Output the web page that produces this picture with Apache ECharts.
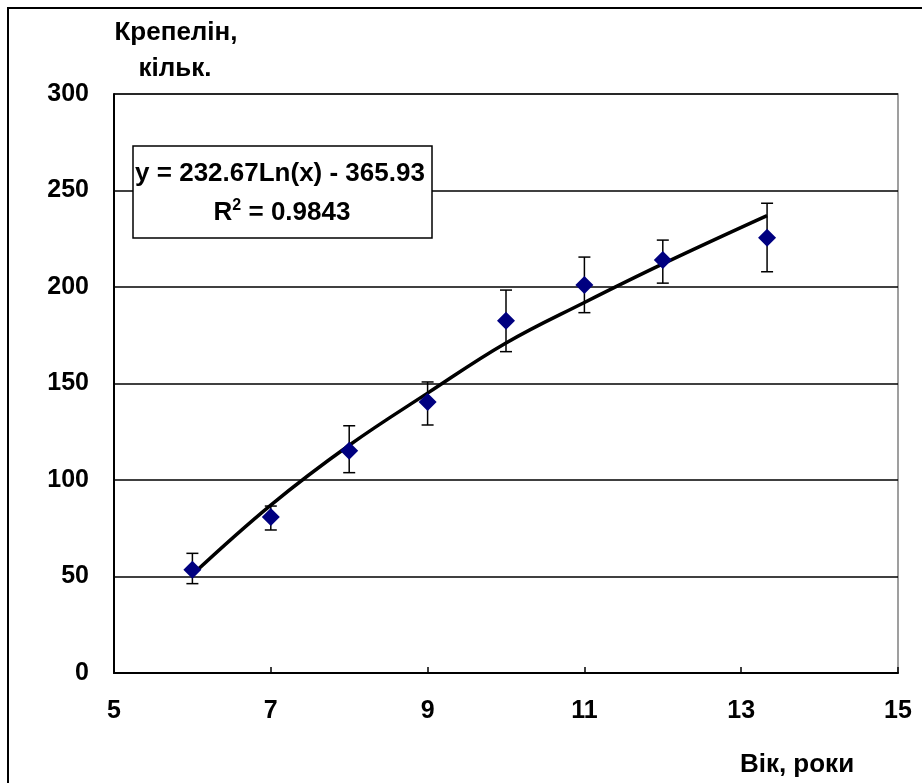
<!DOCTYPE html>
<html>
<head>
<meta charset="utf-8">
<script src="https://cdn.jsdelivr.net/npm/echarts@6/dist/echarts.min.js"></script>
<style>
  html, body { margin: 0; padding: 0; background: #fff; }
  #chart { width: 922px; height: 783px; }
</style>
</head>
<body>
<div id="chart"></div>
<script>
// вік, роки
var ages = [6, 7, 8, 9, 10, 11, 12, 13.33];
// середні значення (Крепелін, кільк.)
var means = [53.5, 80.8, 115.2, 140.4, 182.5, 201, 214, 225.5];
// межі похибки
var errLow = [46.3, 74.1, 103.8, 128.5, 166.5, 186.7, 202, 207.9];
var errHigh = [62, 86.5, 128.1, 150.8, 198.4, 215.5, 224.3, 243.4];
// лінія тренду
var trendX = [6, 7, 8, 9, 10, 11, 12, 13.33];
var trendY = [51, 87, 118, 145, 171, 192, 212, 237];

var yTicks = [0, 50, 100, 150, 200, 250, 300];
var xTicks = [5, 7, 9, 11, 13, 15];

var font = 'Liberation Sans, Arial, sans-serif';

var chart = echarts.init(document.getElementById('chart'));

var option = {
  animation: false,
  backgroundColor: '#fff',
  grid: { left: 114, right: 24, top: 94, bottom: 110, show: true, borderColor: '#808080', borderWidth: 1.5 },
  xAxis: {
    type: 'value', min: xTicks[0], max: xTicks[xTicks.length - 1], interval: 2,
    axisLine: { show: true, onZero: false, lineStyle: { color: '#000', width: 2 } },
    axisTick: { show: true, inside: true, length: 6, lineStyle: { color: '#000', width: 1.5 } },
    splitLine: { show: false },
    axisLabel: { color: '#000', fontFamily: font, fontWeight: 'bold', fontSize: 25, margin: 26 }
  },
  yAxis: {
    type: 'value', min: yTicks[0], max: yTicks[yTicks.length - 1], interval: 50,
    axisLine: { show: true, onZero: false, lineStyle: { color: '#000', width: 2 } },
    axisTick: { show: false },
    splitLine: { show: true, lineStyle: { color: '#000', width: 1.5 } },
    axisLabel: { color: '#000', fontFamily: font, fontWeight: 'bold', fontSize: 25, margin: 25 }
  },
  graphic: [
    { type: 'rect', shape: { x: 8, y: 8, width: 940, height: 800 }, style: { fill: 'none', stroke: '#000', lineWidth: 2 }, z: 100 },
    { type: 'text', x: 176, y: 33, style: { text: 'Крепелін,', font: 'bold 26px ' + font, fill: '#000', align: 'center', verticalAlign: 'middle' } },
    { type: 'text', x: 175, y: 69, style: { text: 'кільк.', font: 'bold 26px ' + font, fill: '#000', align: 'center', verticalAlign: 'middle' } },
    { type: 'text', x: 797, y: 765, style: { text: 'Вік, роки', font: 'bold 26px ' + font, fill: '#000', align: 'center', verticalAlign: 'middle' } },
    { type: 'rect', shape: { x: 133, y: 146, width: 299, height: 92 }, style: { fill: '#fff', stroke: '#000', lineWidth: 1.5 }, z: 50 },
    { type: 'text', x: 280, y: 174, z: 51, style: { text: 'y = 232.67Ln(x) - 365.93', font: 'bold 26px ' + font, fill: '#000', align: 'center', verticalAlign: 'middle' } },
    { type: 'text', x: 282, y: 212, z: 51, style: {
        text: '{a|R}{s|2}{a| = 0.9843}', align: 'center', verticalAlign: 'middle',
        rich: {
          a: { font: 'bold 26px ' + font, fill: '#000', verticalAlign: 'bottom' },
          s: { font: 'bold 16px ' + font, fill: '#000', verticalAlign: 'top', padding: [0, 0, 12, 0] }
        }
      } }
  ],
  series: [
    {
      name: 'trend', type: 'line', smooth: 0.4, showSymbol: false, z: 3,
      lineStyle: { color: '#000', width: 3.5 },
      data: trendX.map(function (x, i) { return [x, trendY[i]]; })
    },
    {
      name: 'errors', type: 'custom', z: 4,
      data: ages.map(function (x, i) { return [x, errLow[i], errHigh[i]]; }),
      renderItem: function (params, api) {
        var lo = api.coord([api.value(0), api.value(1)]);
        var hi = api.coord([api.value(0), api.value(2)]);
        var w = 6;
        var st = { stroke: '#000', lineWidth: 1.5 };
        return {
          type: 'group',
          children: [
            { type: 'line', shape: { x1: lo[0], y1: lo[1], x2: hi[0], y2: hi[1] }, style: st },
            { type: 'line', shape: { x1: lo[0] - w, y1: lo[1], x2: lo[0] + w, y2: lo[1] }, style: st },
            { type: 'line', shape: { x1: hi[0] - w, y1: hi[1], x2: hi[0] + w, y2: hi[1] }, style: st }
          ]
        };
      }
    },
    {
      name: 'means', type: 'scatter', symbol: 'diamond', symbolSize: 18, z: 5,
      itemStyle: { color: '#000080', opacity: 1 },
      data: ages.map(function (x, i) { return [x, means[i]]; })
    }
  ]
};

chart.setOption(option);
</script>
</body>
</html>
